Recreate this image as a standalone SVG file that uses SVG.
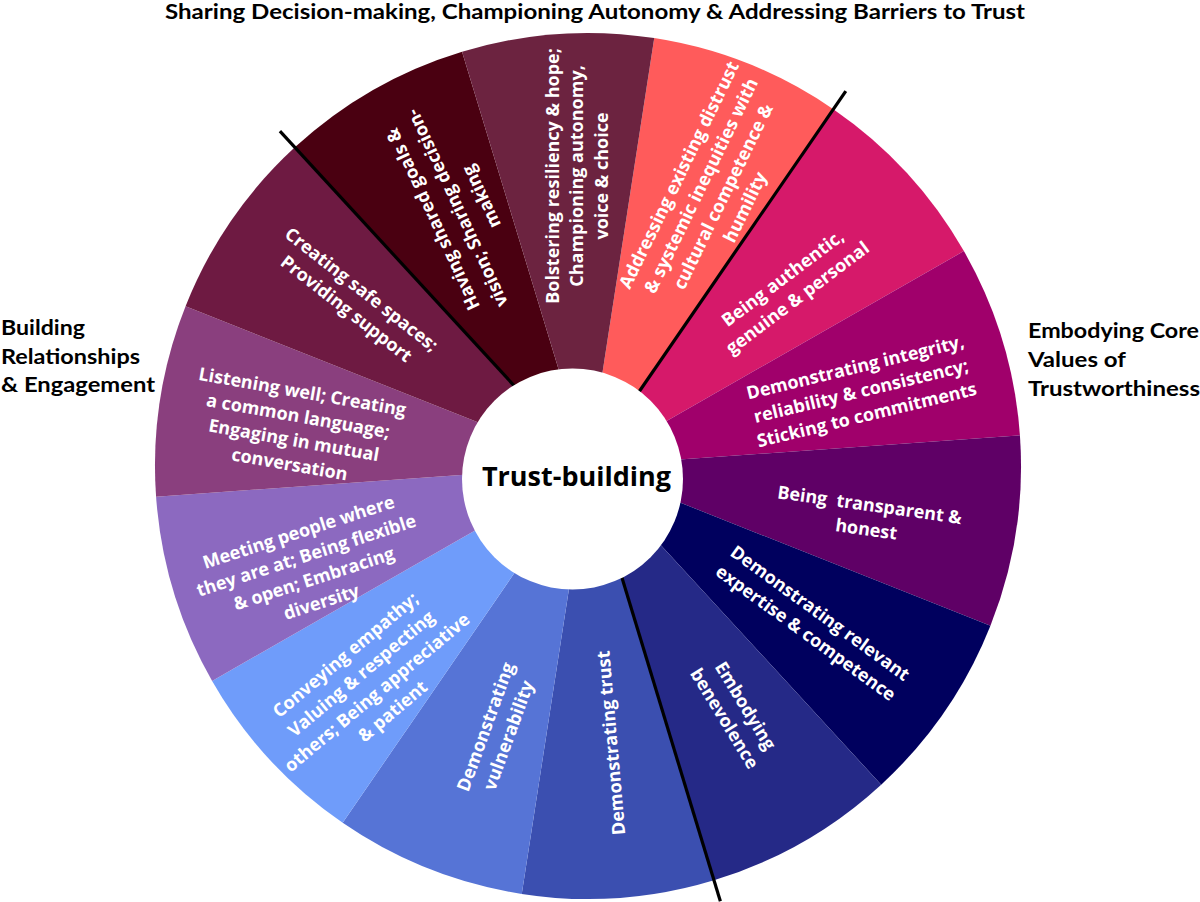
<svg xmlns="http://www.w3.org/2000/svg" width="1200" height="902" viewBox="0 0 1200 902">
<style>
.seg{stroke:none}
.lbl{font-family:"Open Sans","DejaVu Sans",sans-serif;font-weight:700;font-size:18px;fill:#ffffff;text-anchor:middle;white-space:pre}
.cat{font-family:Lato,"Liberation Sans",sans-serif;font-weight:700;font-size:21px;fill:#000000}
.div{stroke:#000000;stroke-width:3.2;fill:none}
</style>
<rect width="1200" height="902" fill="#ffffff"/>
<g id="segments">
<g id="seg-addressing"><path class="seg" fill="#FF5B5B" d="M588,466 L654.24,38.10 A433,433 0 0 1 833.34,109.21 Z"/></g>
<g id="seg-authentic"><path class="seg" fill="#D6196A" d="M588,466 L833.34,109.21 A433,433 0 0 1 963.88,251.05 Z"/></g>
<g id="seg-integrity"><path class="seg" fill="#A0006B" d="M588,466 L963.88,251.05 A433,433 0 0 1 1019.92,435.37 Z"/></g>
<g id="seg-transparent"><path class="seg" fill="#5F0066" d="M588,466 L1019.92,435.37 A433,433 0 0 1 990.43,625.79 Z"/></g>
<g id="seg-expertise"><path class="seg" fill="#00005E" d="M588,466 L990.43,625.79 A433,433 0 0 1 881.17,784.65 Z"/></g>
<g id="seg-benevolence"><path class="seg" fill="#252987" d="M588,466 L881.17,784.65 A433,433 0 0 1 713.96,880.27 Z"/></g>
<g id="seg-trust"><path class="seg" fill="#3B4FB0" d="M588,466 L713.96,880.27 A433,433 0 0 1 521.76,893.90 Z"/></g>
<g id="seg-vulnerability"><path class="seg" fill="#5674D6" d="M588,466 L521.76,893.90 A433,433 0 0 1 342.66,822.79 Z"/></g>
<g id="seg-empathy"><path class="seg" fill="#6F9CFA" d="M588,466 L342.66,822.79 A433,433 0 0 1 212.12,680.95 Z"/></g>
<g id="seg-meeting"><path class="seg" fill="#8C69C0" d="M588,466 L212.12,680.95 A433,433 0 0 1 156.08,496.63 Z"/></g>
<g id="seg-listening"><path class="seg" fill="#8A3F7E" d="M588,466 L156.08,496.63 A433,433 0 0 1 185.57,306.21 Z"/></g>
<g id="seg-safe"><path class="seg" fill="#6E1A42" d="M588,466 L185.57,306.21 A433,433 0 0 1 294.83,147.35 Z"/></g>
<g id="seg-shared"><path class="seg" fill="#4A0011" d="M588,466 L294.83,147.35 A433,433 0 0 1 462.04,51.73 Z"/></g>
<g id="seg-bolstering"><path class="seg" fill="#6C2340" d="M588,466 L462.04,51.73 A433,433 0 0 1 654.24,38.10 Z"/></g>
</g>
<g id="connectors">
<line class="div" x1="588" y1="466" x2="279.93" y2="131.16"/>
<line class="div" x1="588" y1="466" x2="845.80" y2="91.08"/>
<line class="div" x1="588" y1="466" x2="720.36" y2="901.32"/>
</g>
<g id="center">
<circle cx="572.5" cy="479" r="110.5" fill="#ffffff"/>
<text x="576.5" y="486" style="font-family:'Open Sans','DejaVu Sans',sans-serif;font-weight:700;font-size:27px;fill:#000;text-anchor:middle">Trust-building</text>
</g>
<g id="labels">
<g id="lbl-bolstering"><text class="lbl" transform="translate(577,176) rotate(-90)"><tspan x="0" y="-18.2">Bolstering resiliency &amp; hope;</tspan><tspan x="0" y="6.3">Championing autonomy,</tspan><tspan x="0" y="30.8">voice &amp; choice</tspan></text></g>
<g id="lbl-shared"><text class="lbl" transform="translate(457,208) rotate(-115)"><tspan x="0" y="-20.5">Having shared goals &amp;</tspan><tspan x="0" y="6.3">vision; Sharing decision-</tspan><tspan x="0" y="33.1">making</tspan></text></g>
<g id="lbl-safe"><text class="lbl" transform="translate(354,299) rotate(38)"><tspan x="0" y="-5.95">Creating safe spaces;</tspan><tspan x="0" y="18.55">Providing support</tspan></text></g>
<g id="lbl-listening"><text class="lbl" transform="translate(296,428) rotate(10)"><tspan x="0" y="-30.45">Listening well; Creating</tspan><tspan x="0" y="-5.95">a common language;</tspan><tspan x="0" y="18.55">Engaging in mutual</tspan><tspan x="0" y="43.05">conversation</tspan></text></g>
<g id="lbl-meeting"><text class="lbl" transform="translate(310,567) rotate(-18)"><tspan x="0" y="-30.45">Meeting people where</tspan><tspan x="0" y="-5.95">they are at; Being flexible</tspan><tspan x="0" y="18.55">&amp; open; Embracing</tspan><tspan x="0" y="43.05">diversity</tspan></text></g>
<g id="lbl-empathy"><text class="lbl" transform="translate(369,683) rotate(-40)"><tspan x="0" y="-30.45">Conveying empathy;</tspan><tspan x="0" y="-5.95">Valuing &amp; respecting</tspan><tspan x="0" y="18.55">others; Being appreciative</tspan><tspan x="0" y="43.05">&amp; patient</tspan></text></g>
<g id="lbl-vulnerability"><text class="lbl" transform="translate(497,731) rotate(-70)"><tspan x="0" y="-5.95">Demonstrating</tspan><tspan x="0" y="18.55">vulnerability</tspan></text></g>
<g id="lbl-trust"><text class="lbl" transform="translate(611,743) rotate(-95)"><tspan x="0" y="6.3">Demonstrating trust</tspan></text></g>
<g id="lbl-benevolence"><text class="lbl" transform="translate(735,712) rotate(58.6)"><tspan x="0" y="-5.95">Embodying</tspan><tspan x="0" y="18.55">benevolence</tspan></text></g>
<g id="lbl-expertise"><text class="lbl" transform="translate(813,623) rotate(36)"><tspan x="0" y="-5.95">Demonstrating relevant</tspan><tspan x="0" y="18.55">expertise &amp; competence</tspan></text></g>
<g id="lbl-transparent"><text class="lbl" transform="translate(868,517) rotate(8)"><tspan x="0" y="-5.95">Being  transparent &amp;</tspan><tspan x="0" y="18.55">honest</tspan></text></g>
<g id="lbl-integrity"><text class="lbl" transform="translate(861,391) rotate(-13.6)"><tspan x="0" y="-18.2">Demonstrating integrity,</tspan><tspan x="0" y="6.3">reliability &amp; consistency;</tspan><tspan x="0" y="30.8">Sticking to commitments</tspan></text></g>
<g id="lbl-authentic"><text class="lbl" transform="translate(790,288) rotate(-37)"><tspan x="0" y="-5.95">Being authentic,</tspan><tspan x="0" y="18.55">genuine &amp; personal</tspan></text></g>
<g id="lbl-addressing"><text class="lbl" transform="translate(712,191) rotate(-64)"><tspan x="0" y="-30.45">Addressing existing distrust</tspan><tspan x="0" y="-5.95">&amp; systemic inequities with</tspan><tspan x="0" y="18.55">cultural competence &amp;</tspan><tspan x="0" y="43.05">humility</tspan></text></g>
</g>
<g id="categories">
<g id="cat-top"><text class="cat" x="165" y="19" style="font-size:20.5px" textLength="860" lengthAdjust="spacingAndGlyphs">Sharing Decision-making, Championing Autonomy &amp; Addressing Barriers to Trust</text></g>
<g id="cat-left"><text class="cat"><tspan x="1" y="335" textLength="84" lengthAdjust="spacingAndGlyphs">Building</tspan><tspan x="1" y="363.5" textLength="139" lengthAdjust="spacingAndGlyphs">Relationships</tspan><tspan x="1" y="392" textLength="154" lengthAdjust="spacingAndGlyphs">&amp; Engagement</tspan></text></g>
<g id="cat-right"><text class="cat"><tspan x="1028" y="338" textLength="171" lengthAdjust="spacingAndGlyphs">Embodying Core</tspan><tspan x="1028" y="367" textLength="98" lengthAdjust="spacingAndGlyphs">Values of</tspan><tspan x="1028" y="396" textLength="172" lengthAdjust="spacingAndGlyphs">Trustworthiness</tspan></text></g>
</g>
</svg>
